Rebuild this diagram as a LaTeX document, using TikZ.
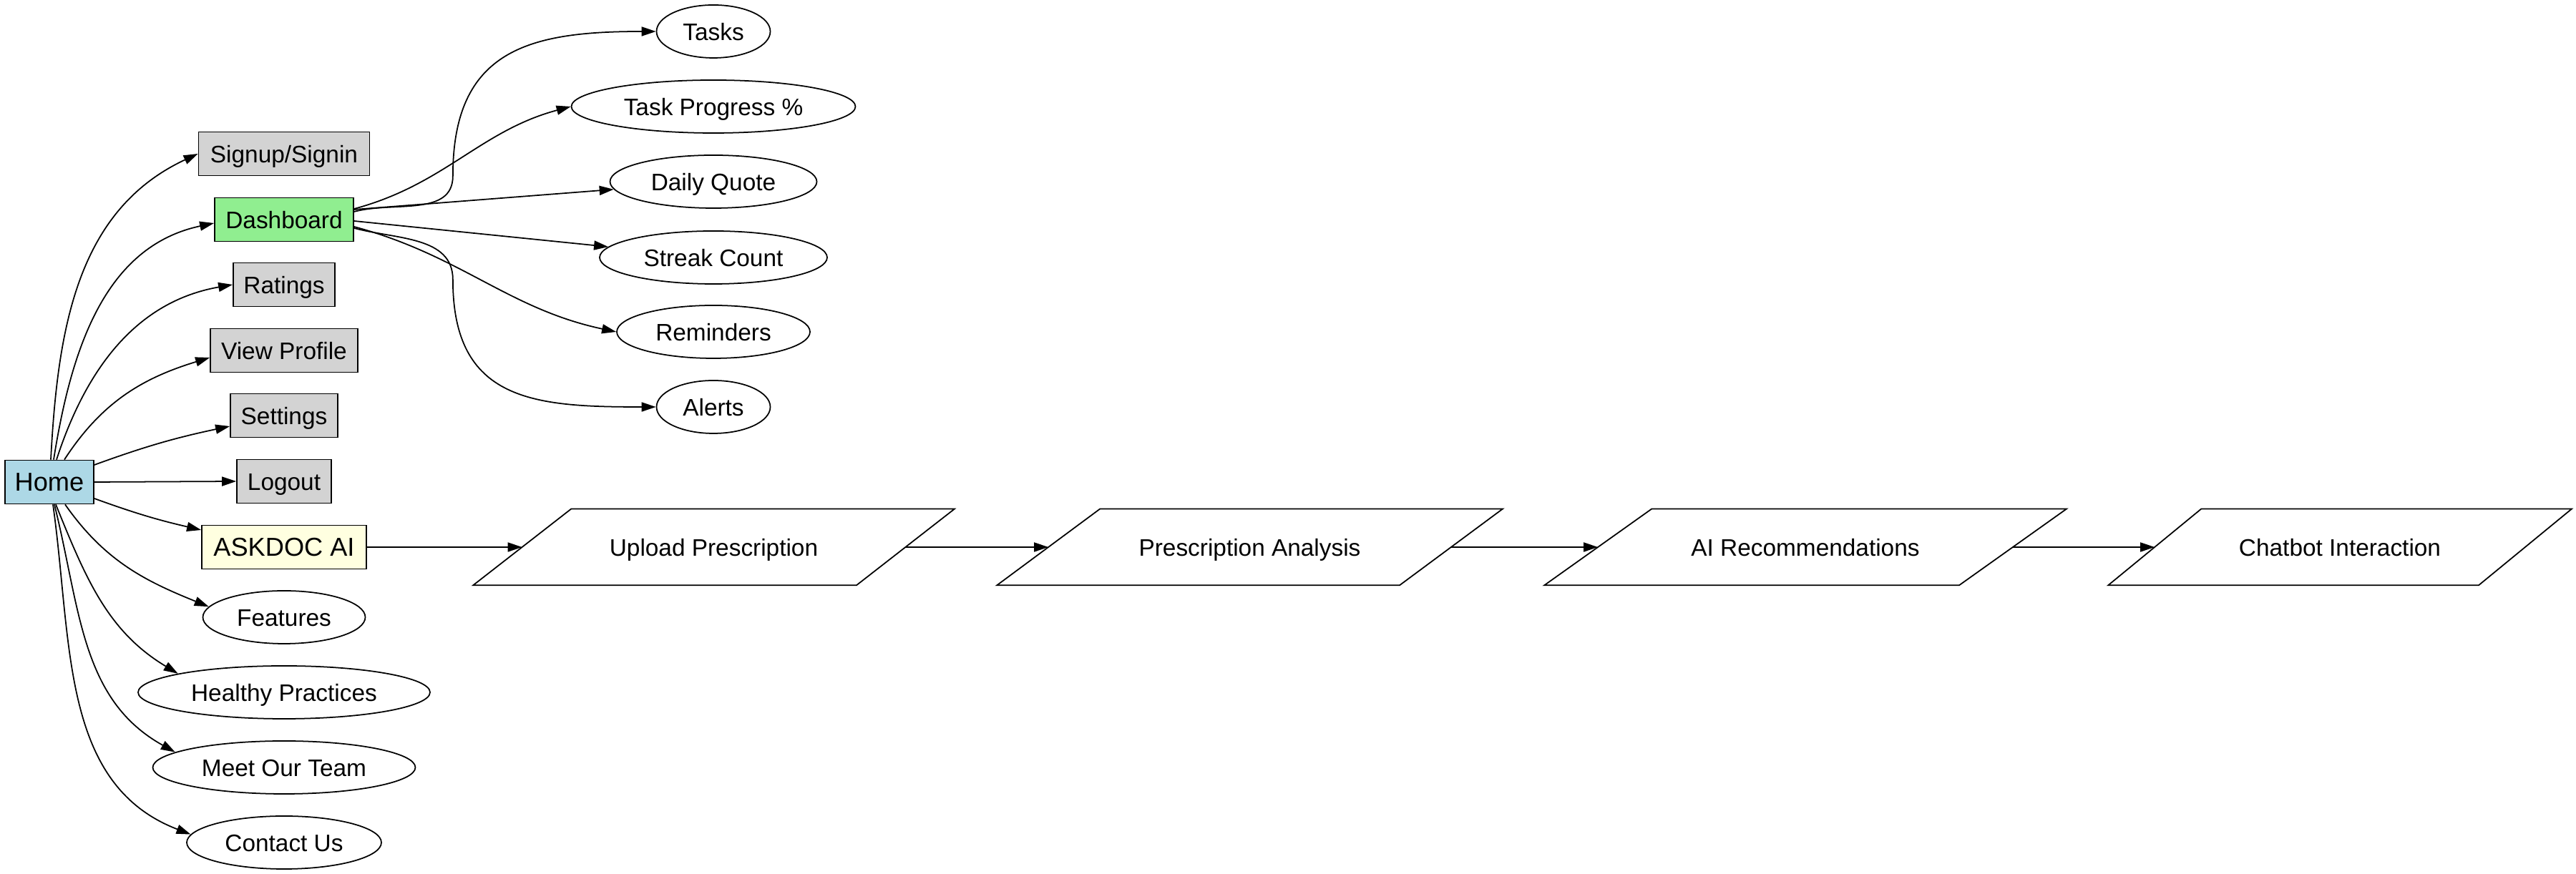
\documentclass[tikz,border=0pt]{standalone}
\usepackage{fontspec}
\setmainfont{Liberation Sans}
\usetikzlibrary{shapes.geometric,arrows.meta}
\definecolor{homeblue}{HTML}{ADD8E6}
\definecolor{dashgreen}{HTML}{90EE90}
\definecolor{pagegray}{HTML}{D3D3D3}
\definecolor{askyellow}{HTML}{FFFFE0}
\begin{document}
\begin{tikzpicture}[>={Triangle[length=0.2cm,width=0.13cm]}, line width=0.5pt,
  box/.style={rectangle, draw, fill=pagegray, minimum height=0.61cm, inner sep=0pt, text height=0.8em, text depth=0.08em, font=\fontsize{9.5}{11}\selectfont},
  leaf/.style={ellipse, draw, minimum height=0.74cm, inner sep=0pt, text height=0.8em, text depth=0.08em, font=\fontsize{9.5}{11}\selectfont},
  io/.style={rectangle, minimum height=1.05cm, inner sep=0pt, text height=0.8em, text depth=0.08em, font=\fontsize{9.5}{11}\selectfont}]
\useasboundingbox (0,0) rectangle (36,12.22);
\node[box, fill=homeblue, minimum width=1.24cm, font=\fontsize{10.3}{12}\selectfont] (home) at (0.69,5.48){Home};
\node[box, minimum width=2.39cm] (sign) at (3.97,10.07){Signup/Signin};
\node[box, fill=dashgreen, minimum width=1.94cm] (dash) at (3.97,9.15){Dashboard};
\node[box, minimum width=1.42cm] (rate) at (3.97,8.24){Ratings};
\node[box, minimum width=2.06cm] (view) at (3.97,7.32){View Profile};
\node[box, minimum width=1.50cm] (sett) at (3.97,6.41){Settings};
\node[box, minimum width=1.32cm] (out) at (3.97,5.49){Logout};
\node[box, fill=askyellow, minimum width=2.30cm, font=\fontsize{10.3}{12}\selectfont] (ask) at (3.97,4.57){ASKDOC AI};
\node[leaf, minimum width=2.27cm] (feat) at (3.97,3.59){Features};
\node[leaf, minimum width=4.08cm] (heal) at (3.97,2.54){Healthy Practices};
\node[leaf, minimum width=3.67cm] (team) at (3.97,1.49){Meet Our Team};
\node[leaf, minimum width=2.72cm] (cont) at (3.97,0.44){Contact Us};
% dashboard items
\node[leaf, minimum width=1.59cm] (db0) at (9.97,11.78){Tasks};
\node[leaf, minimum width=3.97cm] (db1) at (9.97,10.73){Task Progress \%};
\node[leaf, minimum width=2.89cm] (db2) at (9.97,9.68){Daily Quote};
\node[leaf, minimum width=3.18cm] (db3) at (9.97,8.62){Streak Count};
\node[leaf, minimum width=2.70cm] (db4) at (9.97,7.58){Reminders};
\node[leaf, minimum width=1.59cm] (db5) at (9.97,6.53){Alerts};
% askdoc chain
\node[io, minimum width=5.34cm] (up0) at (9.975,4.57){Upload Prescription};
\node[io, minimum width=5.61cm] (up1) at (17.465,4.57){Prescription Analysis};
\node[io, minimum width=5.78cm] (up2) at (25.23,4.57){AI Recommendations};
\node[io, minimum width=5.16cm] (up3) at (32.70,4.57){Chatbot Interaction};
\foreach \n/\s in {up0/0.685,up1/0.72,up2/0.75,up3/0.65}
  \draw ([xshift=\s cm]\n.north west) -- ([xshift=\s cm]\n.north east) -- ([xshift=-\s cm]\n.south east) -- ([xshift=-\s cm]\n.south west) -- cycle;

\draw[->] ([xshift=0.02cm]home.north) to[out=87,in=205] (sign.west);
\draw[->] ([xshift=0.06cm]home.north) to[out=81,in=192] ([yshift=-0.05cm]dash.west);
\draw[->] ([xshift=0.10cm]home.north) to[out=72,in=190] (rate.west);
\draw[->] ([xshift=0.21cm]home.north) to[out=57,in=197] ([yshift=-0.1cm]view.west);
\draw[->] ([yshift=0.24cm]home.east) to[out=20,in=192] ([yshift=-0.15cm]sett.west);
\draw[->] (home.east) -- (out.west);
\draw[->] ([yshift=-0.23cm]home.east) to[out=-20,in=167] ([yshift=0.24cm]ask.west);
\draw[->] ([xshift=0.22cm]home.south) to[out=-55,in=158] (feat.172);
\draw[->] ([xshift=0.09cm]home.south) to[out=-68,in=149] (heal.170);
\draw[->] ([xshift=0.07cm]home.south) to[out=-76,in=151] (team.172);
\draw[->] ([xshift=0.05cm]home.south) to[out=-82,in=159] (cont.175);

\draw[->] ([yshift=0.11cm]dash.east) to[out=15,in=-90] ++(1.38,0.5) to[out=90,in=180,looseness=1.3] (db0.west);
\draw[->] ([yshift=0.15cm]dash.east) to[out=15,in=195] (db1.west);
\draw[->] ([yshift=0.14cm]dash.east) -- (db2);
\draw[->] ([yshift=-0.02cm]dash.east) -- (db3);
\draw[->] ([yshift=-0.10cm]dash.east) to[out=-15,in=168] (db4.west);
\draw[->] ([yshift=-0.12cm]dash.east) to[out=-15,in=90] ++(1.38,-0.72) to[out=-90,in=180,looseness=1.3] (db5.west);

\draw[->] (ask.east) -- (up0.west);
\draw[->] (up0.east) -- (up1.west);
\draw[->] (up1.east) -- (up2.west);
\draw[->] (up2.east) -- (up3.west);

\end{tikzpicture}
\end{document}
